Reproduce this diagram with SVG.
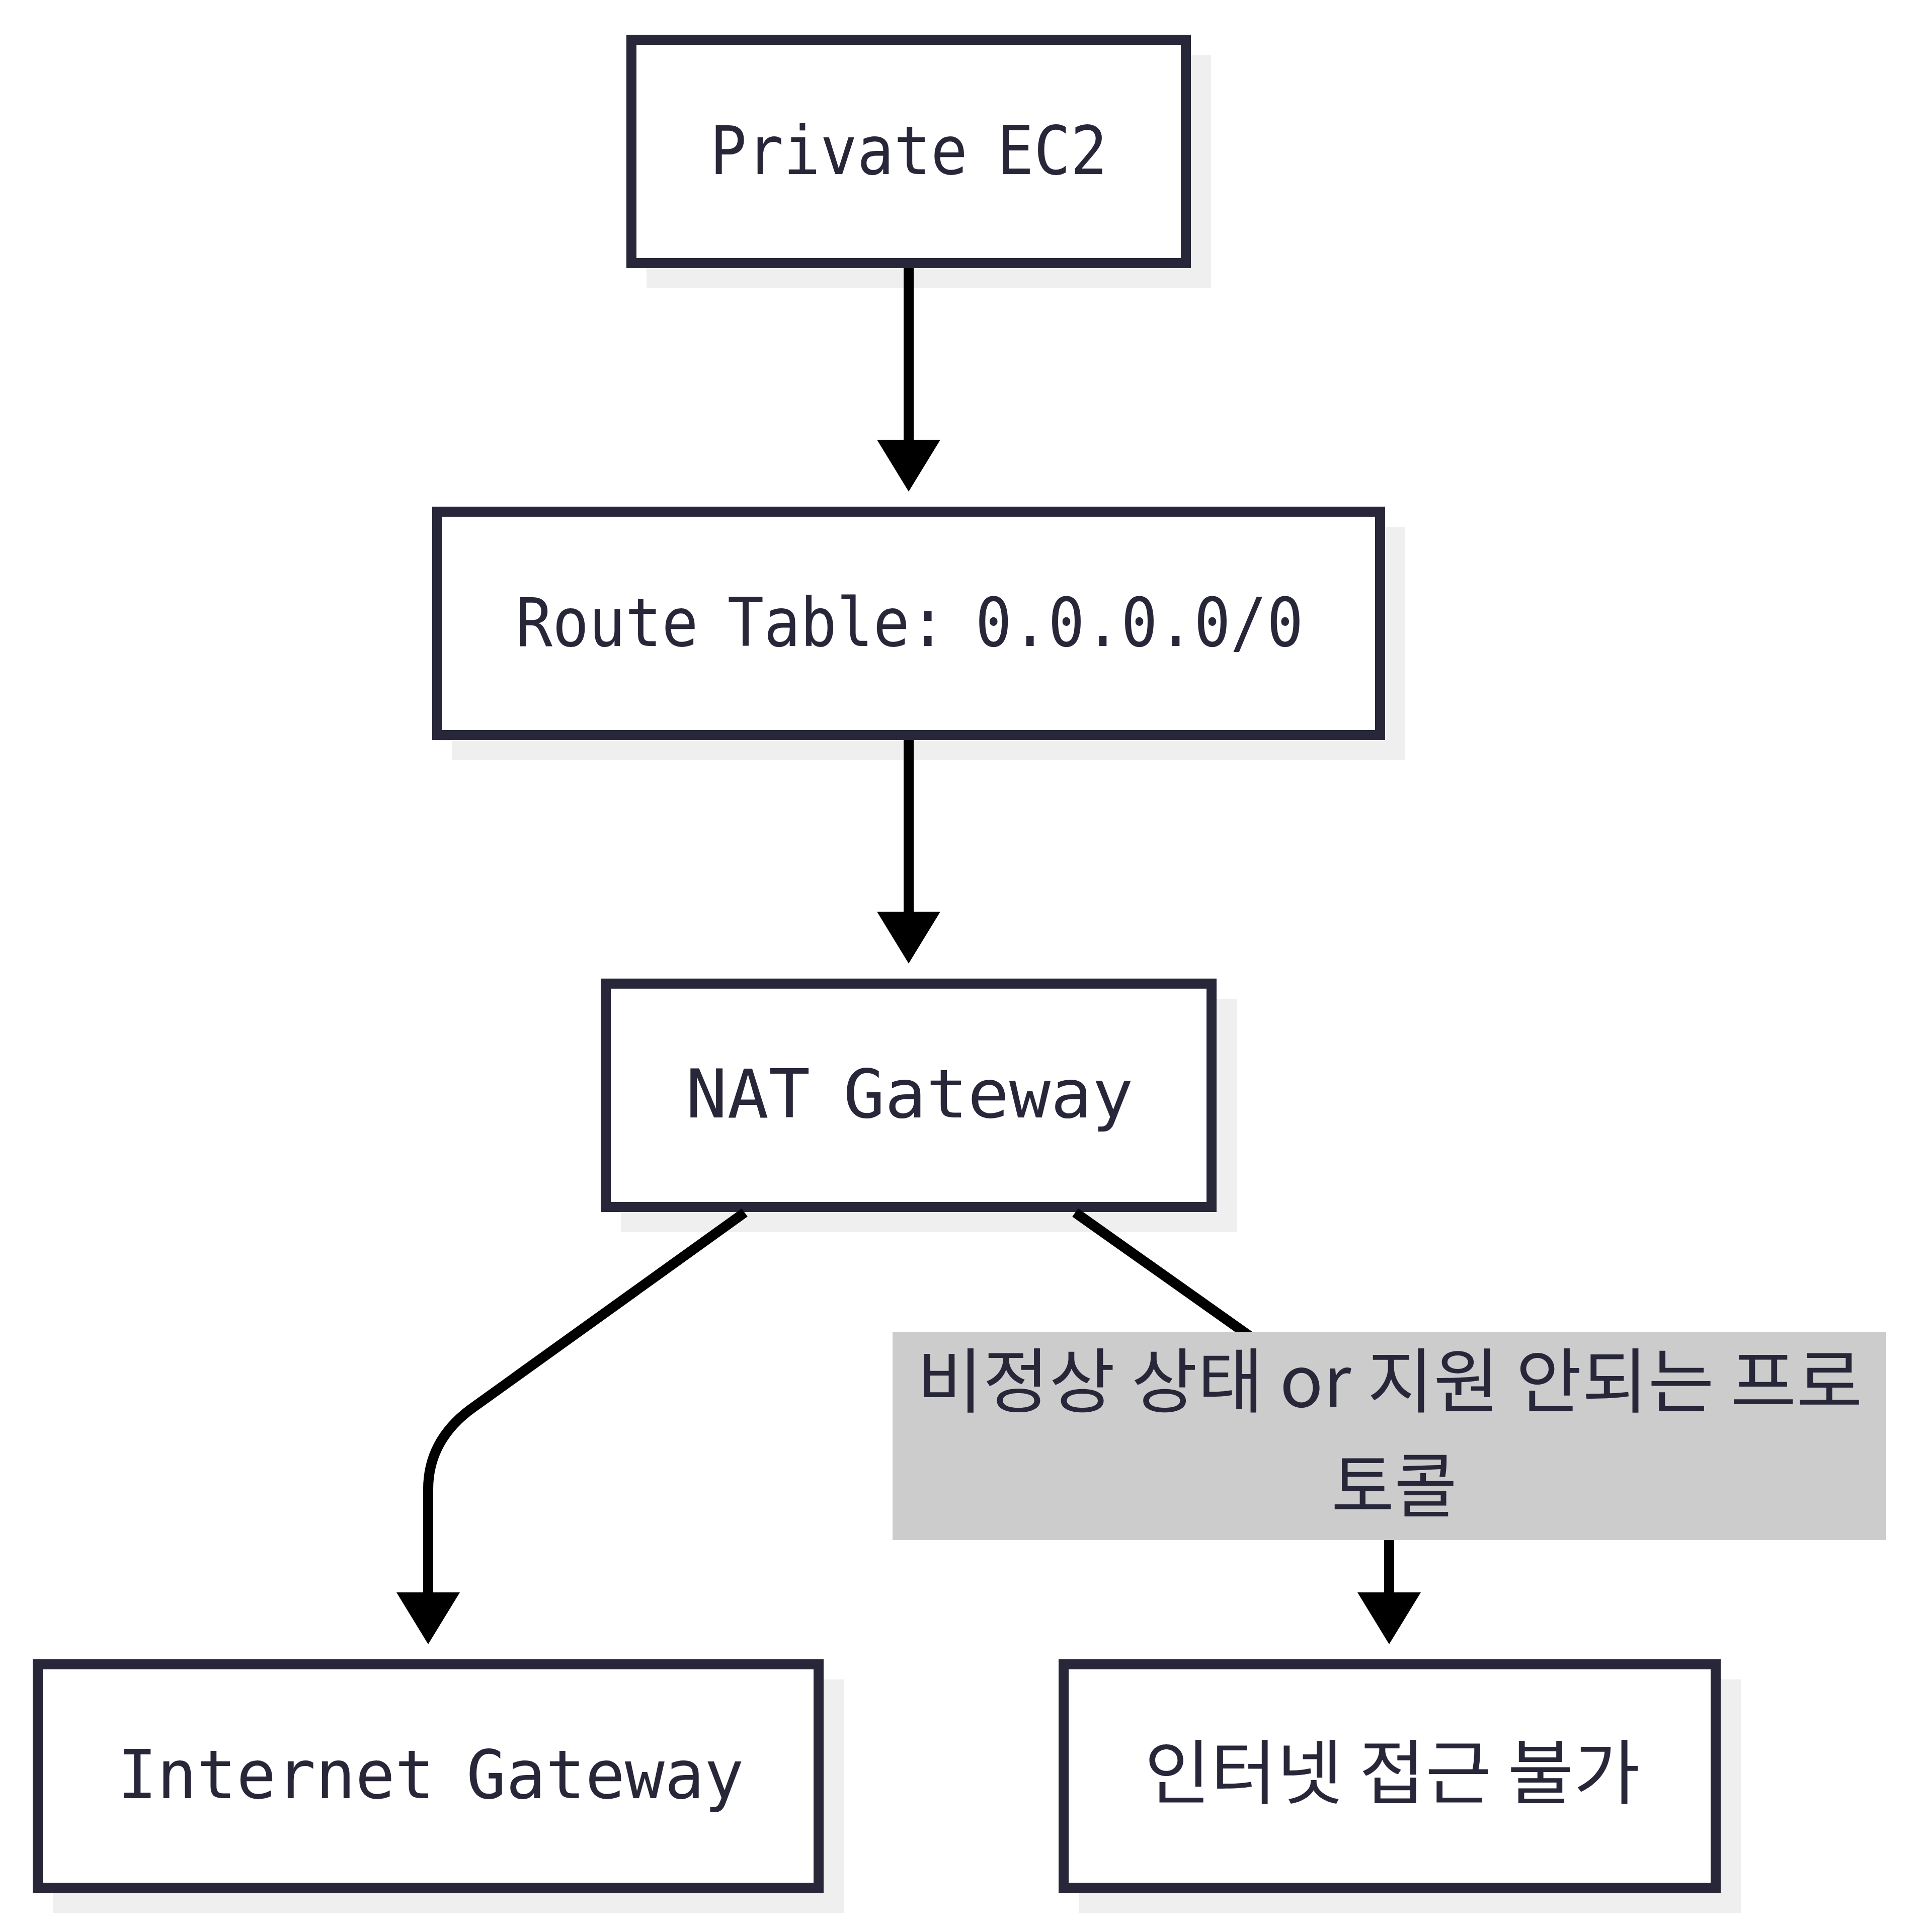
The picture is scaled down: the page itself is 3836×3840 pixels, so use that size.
<svg xmlns="http://www.w3.org/2000/svg" width="3836" height="3840" viewBox="0 0 3836 3840">
<style>
.shadow{fill:#efefef}
.box{fill:#ffffff;stroke:#272739;stroke-width:20}
.t{font-family:"DejaVu Sans Mono","Noto Sans CJK KR",monospace;font-size:133px;fill:#272739;text-anchor:middle;word-spacing:-16px}
.k{font-family:"Noto Sans CJK KR","DejaVu Sans",sans-serif;font-size:140px;fill:#272739;text-anchor:middle}
.edge{fill:none;stroke:#000000;stroke-width:20}
</style>
<defs>
<marker id="arrow" viewBox="0 0 103 126" refX="0" refY="63" markerWidth="103" markerHeight="126" markerUnits="userSpaceOnUse" orient="auto">
<path d="M0,0 L103,63 L0,126 Z" fill="#000000"/>
</marker>
</defs>
<rect width="3836" height="3840" fill="#ffffff"/>
<g id="node-ec2">
<rect class="shadow" x="1285" y="109" width="1122" height="464"/>
<rect class="box" x="1255" y="79" width="1102" height="444"/>
<text class="t" x="1806" y="346" textLength="790" lengthAdjust="spacingAndGlyphs">Private EC2</text>
</g>
<g id="node-route">
<rect class="shadow" x="899" y="1047" width="1894" height="464"/>
<rect class="box" x="869" y="1017" width="1874" height="444"/>
<text class="t" x="1808" y="1284" textLength="1565" lengthAdjust="spacingAndGlyphs">Route Table: 0.0.0.0/0</text>
</g>
<g id="node-nat">
<rect class="shadow" x="1234" y="1985" width="1224" height="464"/>
<rect class="box" x="1204" y="1955" width="1204" height="444"/>
<text class="t" x="1808" y="2221" textLength="890" lengthAdjust="spacingAndGlyphs">NAT Gateway</text>
</g>
<g id="node-igw">
<rect class="shadow" x="105" y="3338" width="1572" height="464"/>
<rect class="box" x="75" y="3308" width="1552" height="444"/>
<text class="t" x="856" y="3574" textLength="1245" lengthAdjust="spacingAndGlyphs">Internet Gateway</text>
</g>
<g id="node-noaccess">
<rect class="shadow" x="2144" y="3338" width="1316" height="464"/>
<rect class="box" x="2114" y="3308" width="1296" height="444"/>
<text class="k" x="2767" y="3574" textLength="985" lengthAdjust="spacingAndGlyphs">인터넷 접근 불가</text>
</g>
<g id="connectors">
<path class="edge" d="M1806,533 L1806,874" marker-end="url(#arrow)"/>
<path class="edge" d="M1806,1471 L1806,1812" marker-end="url(#arrow)"/>
<path class="edge" d="M1480,2410 L941,2797 Q851,2861 851,2960 L851,3165" marker-end="url(#arrow)"/>
<path class="edge" d="M2137,2410 L2671,2788 Q2761,2851 2761,2950 L2761,3165" marker-end="url(#arrow)"/>
</g>
<g id="edge-label">
<rect x="1774" y="2647" width="1975" height="414" fill="#cccccc"/>
<text class="k" x="2762" y="2796" textLength="1880" lengthAdjust="spacingAndGlyphs">비정상 상태 or 지원 안되는 프로</text>
<text class="k" x="2771" y="3004" textLength="250" lengthAdjust="spacingAndGlyphs">토콜</text>
</g>
</svg>
